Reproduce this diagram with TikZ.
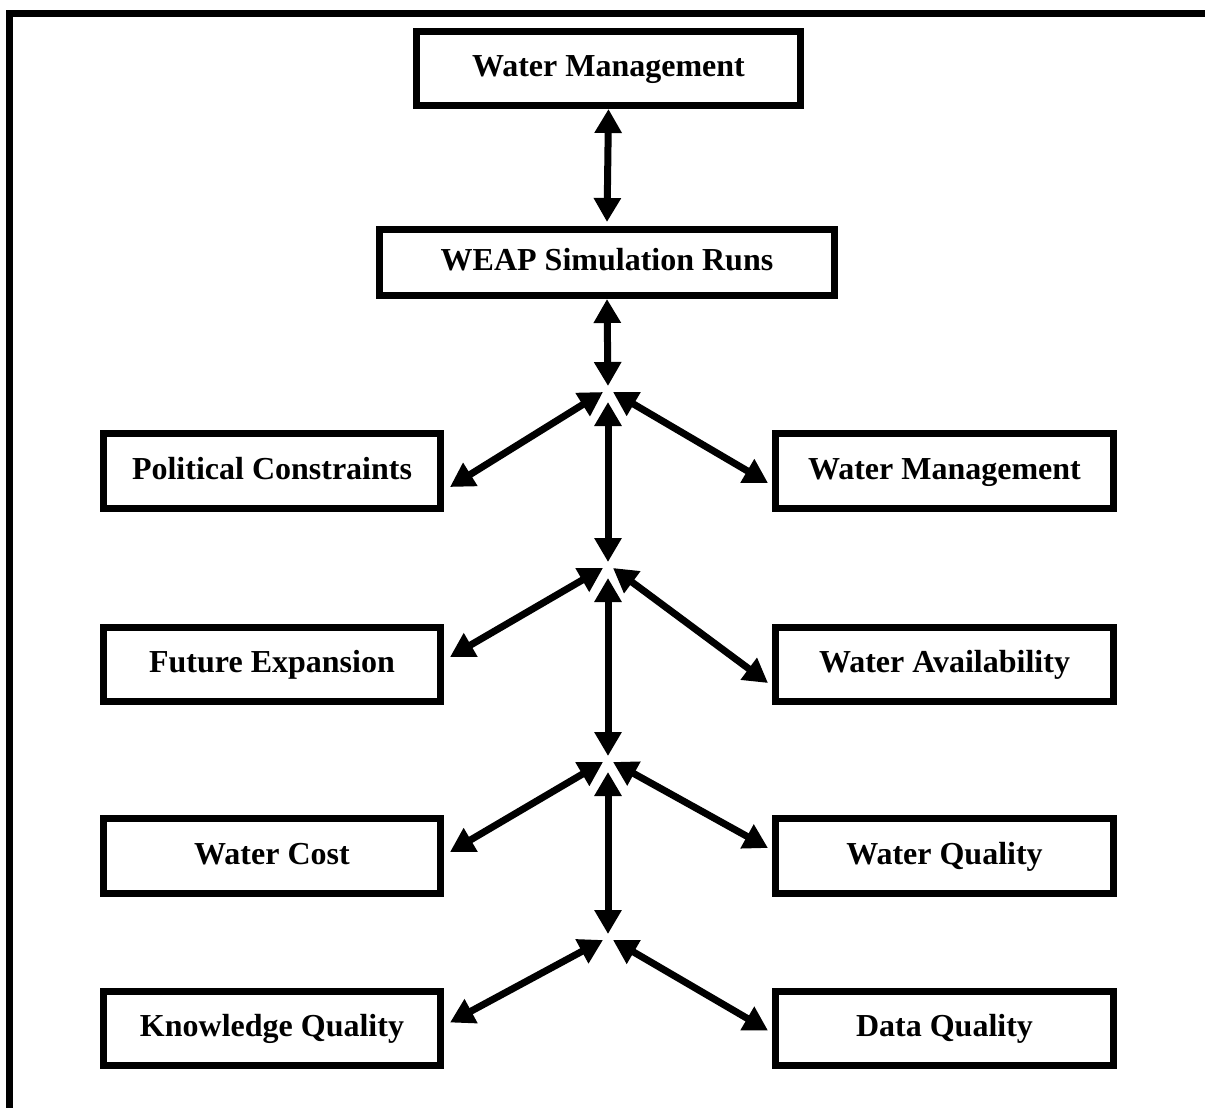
\documentclass[tikz,border=0pt]{standalone}
\usepackage{fontspec}
\setmainfont{Liberation Serif}
\usetikzlibrary{arrows.meta,calc}
\newcommand{\linewd}{3.5pt}
\tikzset{wbox/.style={draw, line width=\linewd, inner sep=2pt,
    text height=11pt, text depth=3pt,
    font=\bfseries\fontsize{16}{18}\selectfont},
  wlink/.style={line width=\linewd,
    {Triangle[length=12pt,width=13pt]}-{Triangle[length=12pt,width=13pt]}}}

\begin{document}
\begin{tikzpicture}[x=0.5pt,y=-0.5pt]
      \useasboundingbox (0,0) rectangle (1205,1108);
          %% frame round the figure, only left and top edges are on the page
      \draw[line width=\linewd] (9.5,1115) -- (9.5,13) -- (1215,13);

      \node (wm) at (608.5,68.5) [wbox, minimum width=192pt, minimum height=37pt] {Water Management};
      \node (weap) at (607,262.5) [wbox, minimum width=227.5pt, minimum height=33pt] {WEAP Simulation Runs};

          %% left column
      \node (pc) at (272,471) [wbox, minimum width=168.5pt, minimum height=37.5pt] {Political Constraints};
      \node (fe) at (272,664) [wbox, minimum width=168.5pt, minimum height=37pt] {Future Expansion};
      \node (wc) at (272,856) [wbox, minimum width=168.5pt, minimum height=37.5pt] {Water Cost};
      \node (kq) at (272,1028.5) [wbox, minimum width=168.5pt, minimum height=37pt] {Knowledge Quality};
          %% right column
      \node (wm2) at (944.5,471) [wbox, minimum width=169pt, minimum height=37.5pt] {Water Management};
      \node (wa) at (944.5,664) [wbox, minimum width=169pt, minimum height=37pt] {Water Availability};
      \node (wq) at (944.5,856) [wbox, minimum width=169pt, minimum height=37.5pt] {Water Quality};
      \node (dq) at (944.5,1028.5) [wbox, minimum width=169pt, minimum height=37pt] {Data Quality};

          %% branch points on the spine
      \coordinate (j1) at (608,392);
      \coordinate (j2) at (608,568);
      \coordinate (j3) at (608,762);
      \coordinate (j4) at (608,940);

      \draw[wlink] (wm.south) -- ($(weap.north)+(0,-4)$);
      \draw[wlink] (weap.south) -- ($(j1)+(0,-6)$);
      \foreach \a/\b in {1/2,2/3,3/4}
      { \draw[wlink] ($(j\a)+(0,10)$) -- ($(j\b)+(0,-6)$);}

      \foreach \j/\lft/\rgt/\dl/\dr in {1/pc/wm2/16/12, 2/fe/wa/-7/19, 3/wc/wq/-4/-8, 4/kq/dq/-6/2}
      { \draw[wlink] ($(\lft.east)+(6,\dl)$) -- ($(j\j)+(-5,0)$);
        \draw[wlink] ($(j\j)+(5,0)$) -- ($(\rgt.west)+(-4,\dr)$);}
\end{tikzpicture}
\end{document}
